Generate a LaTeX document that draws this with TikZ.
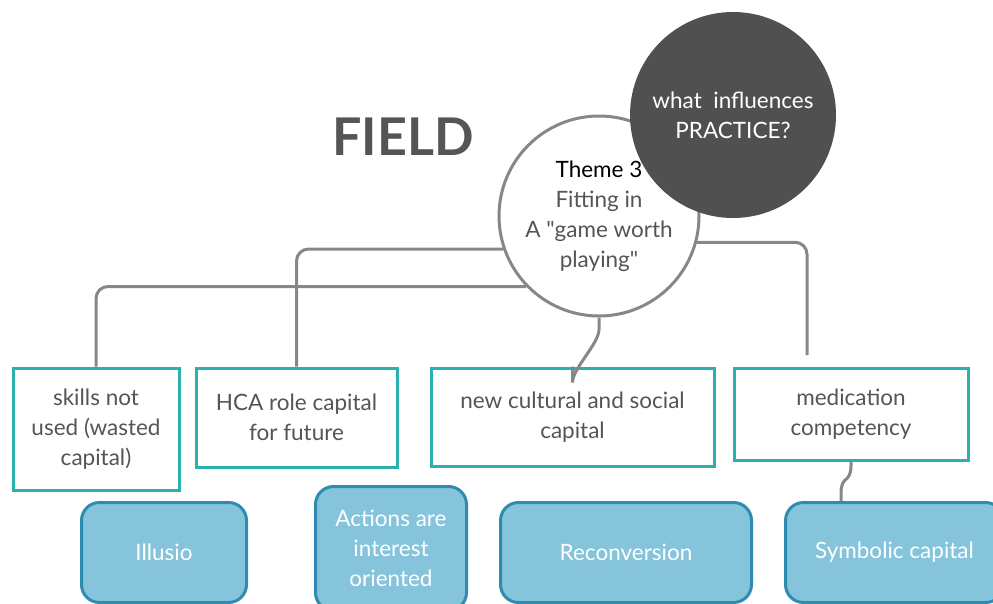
\documentclass[tikz,border=0pt]{standalone}
\usepackage{fontspec}
\setmainfont{Lato}
\usetikzlibrary{positioning,calc}

\definecolor{boxteal}{RGB}{42,176,174}
\definecolor{conceptfill}{RGB}{134,196,220}
\definecolor{conceptline}{RGB}{47,140,177}
\definecolor{linkgray}{RGB}{135,135,135}
\definecolor{darkcircle}{RGB}{80,80,80}
\definecolor{labelgray}{RGB}{85,85,85}

\begin{document}
\begin{tikzpicture}[
  x=1pt, y=1pt,
  capbox/.style={draw=boxteal, line width=3pt, fill=white, align=center, text=labelgray, inner sep=2pt, font=\fontsize{22.5}{30}\selectfont},
  concept/.style={draw=conceptline, line width=3pt, fill=conceptfill, rounded corners=18pt, align=center, text=white, inner sep=2pt, font=\fontsize{22.5}{30}\selectfont},
  theme/.style={circle, draw=linkgray, line width=3pt, fill=white, align=center, text=labelgray, minimum size=200pt, inner sep=0pt, font=\fontsize{22.5}{30}\selectfont},
  link/.style={draw=linkgray, line width=3pt, rounded corners=12pt},
  wave/.style={draw=linkgray, line width=3pt}
]
\useasboundingbox (0,0) rectangle (993,-603);

\node[font=\fontsize{52}{60}\selectfont\bfseries, text=labelgray] (field) at (403,-137) {FIELD};

% theme circle and the question on top of it
\node[theme] (theme) at (599,-216) {{\color{black}Theme 3}\\Fitting in\\A \textquotedbl game worth\\playing\textquotedbl};
\node[circle, fill=darkcircle, minimum size=206pt, inner sep=0pt, align=center, text=white, font=\fontsize{22.5}{30}\selectfont] (practice) at (733,-115) {what~~influences\\PRACTICE?};

% capitals
\node[capbox, minimum width=166pt, minimum height=122pt] (skills) at (96,-429) {skills not\\used (wasted\\capital)};
\node[capbox, minimum width=201pt, minimum height=99pt, right=14pt of skills.north east, anchor=north west] (hca) {HCA role capital\\for future};
\node[capbox, minimum width=283pt, minimum height=98pt, right=31pt of hca.north east, anchor=north west] (cultural) {new cultural and social\\capital};
\node[capbox, minimum width=234pt, minimum height=92pt, right=17pt of cultural.north east, anchor=north west] (medication) {medication\\competency};

% concepts
\node[concept, minimum width=165pt, minimum height=100pt, anchor=north west] (illusio) at (80,-501) {Illusio};
\node[concept, minimum width=151pt, minimum height=124pt, anchor=north west] (actions) at (314,-485) {Actions are\\interest\\oriented};
\node[concept, minimum width=251pt, minimum height=100pt, anchor=north west] (recon) at (499,-501) {Reconversion};
\node[concept, minimum width=218pt, minimum height=100pt, anchor=north west] (symbolic) at (784,-501) {Symbolic capital};

\coordinate (medend) at (807,-355);

\draw[link] (theme.199) -| (hca.north);
\draw[link] (theme.224) -| (skills.north);
\draw[link] (theme.345) -| (medend);
% the two wavy links
\draw[wave] (theme.south) -- ++(0,-12) .. controls +(0,-14) and +(0,14) .. ($(cultural.north)+(0,-16)$) -- (cultural.north);
\draw[wave] (medication.south) -- ++(0,-4) .. controls +(0,-18) and +(0,18) .. ($(symbolic.north west)+(57,8)$) -- ($(symbolic.north west)+(57,0)$);
\end{tikzpicture}
\end{document}
